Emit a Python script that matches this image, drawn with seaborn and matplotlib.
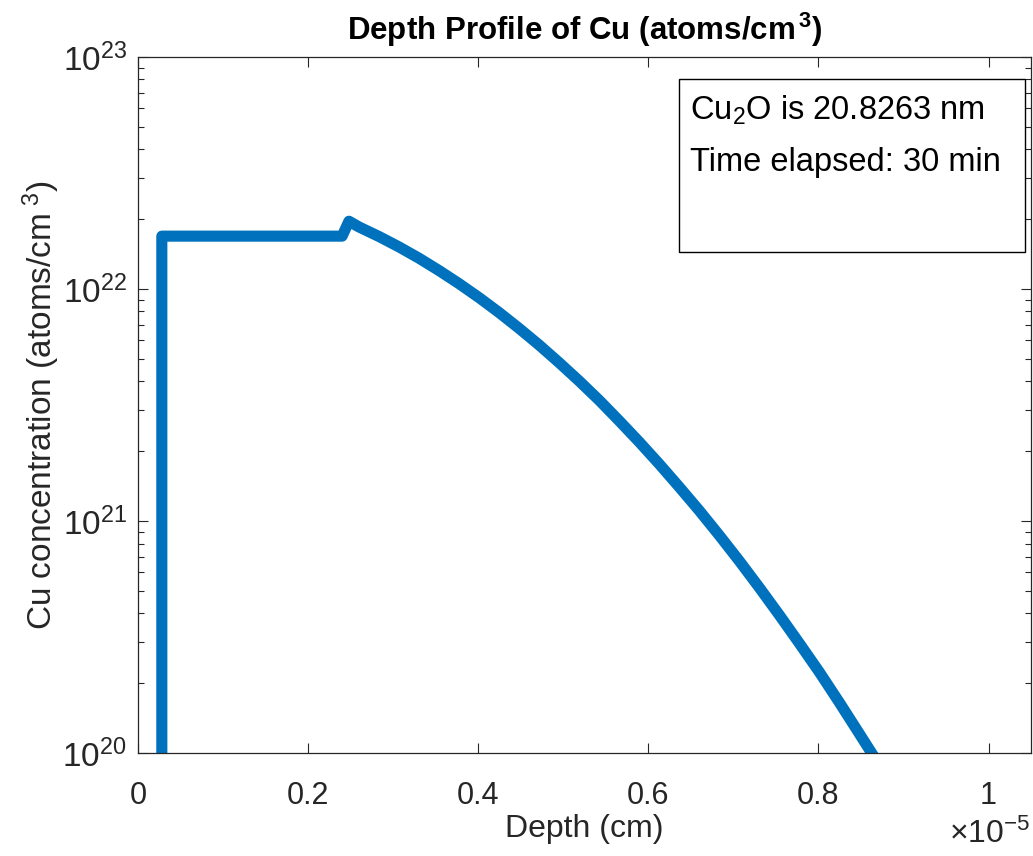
import numpy as np
import pandas as pd
import matplotlib
matplotlib.use("Agg")
import matplotlib.pyplot as plt
import matplotlib.ticker as mticker
from matplotlib.patches import Rectangle
import seaborn as sns

# Cu depth profile after 30 min of oxidation
depth_cm = [0.028e-5, 0.028e-5, 0.240e-5, 0.248e-5, 0.2600e-5, 0.2835e-5,
            0.3071e-5, 0.3306e-5, 0.3541e-5, 0.3776e-5, 0.4012e-5, 0.4247e-5,
            0.4482e-5, 0.4718e-5, 0.4953e-5, 0.5188e-5, 0.5424e-5, 0.5659e-5,
            0.5894e-5, 0.6129e-5, 0.6365e-5, 0.6600e-5, 0.6835e-5, 0.7071e-5,
            0.7306e-5, 0.7541e-5, 0.7776e-5, 0.8012e-5, 0.8247e-5, 0.8482e-5,
            0.8718e-5]
cu_conc = [1.0e18, 1.69e22, 1.69e22, 1.96e22, 1.850e22, 1.683e22,
           1.517e22, 1.356e22, 1.200e22, 1.054e22, 9.17e21, 7.91e21,
           6.76e21, 5.73e21, 4.81e21, 4.01e21, 3.31e21, 2.70e21,
           2.19e21, 1.76e21, 1.40e21, 1.108e21, 8.67e20, 6.72e20,
           5.16e20, 3.93e20, 2.97e20, 2.23e20, 1.65e20, 1.21e20,
           8.85e19]

x_ticks = [0, 0.2e-5, 0.4e-5, 0.6e-5, 0.8e-5, 1.0e-5]
oxide_nm = 20.8263
time_min = 30

sns.set_theme(style="ticks")
plt.rcParams["font.family"] = ["Liberation Sans", "DejaVu Sans"]
plt.rcParams["mathtext.fontset"] = "custom"
plt.rcParams["mathtext.rm"] = "Liberation Sans"
plt.rcParams["mathtext.it"] = "Liberation Sans:italic"
plt.rcParams["mathtext.bf"] = "Liberation Sans:bold"

ink = "#262626"
fs = 23
fig = plt.figure(figsize=(10.33, 8.56), dpi=100)
ax = fig.add_axes([0.1336, 0.1203, 0.8645, 0.8131])

df = pd.DataFrame({"depth": depth_cm, "conc": cu_conc})
sns.lineplot(data=df, x="depth", y="conc", sort=False, estimator=None,
             color="#0072BD", linewidth=8, ax=ax)
ax.lines[0].set_solid_joinstyle("round")
ax.lines[0].set_solid_capstyle("butt")

ax.set_yscale("log")
ax.set_xlim(0, 1.05e-5)
ax.set_ylim(1e20, 1e23)
ax.set_xticks(x_ticks)
ax.xaxis.set_major_formatter(mticker.FuncFormatter(lambda v, p: f"{v / 1e-5:g}"))
ax.yaxis.set_minor_locator(mticker.LogLocator(base=10, subs=np.arange(2, 10)))
ax.yaxis.set_minor_formatter(mticker.NullFormatter())

ax.tick_params(axis="both", which="both", direction="in", top=True, right=True,
               colors=ink, labelcolor=ink, width=0.8)
ax.tick_params(axis="x", which="major", labelsize=22, length=7, pad=20)
ax.tick_params(axis="y", which="major", labelsize=24, length=7, pad=8)
ax.tick_params(axis="both", which="minor", length=4)
for s in ax.spines.values():
    s.set_color(ink)
    s.set_linewidth(0.9)

ax.set_xlabel("Depth (cm)", fontsize=fs, color=ink, labelpad=2)
ax.set_ylabel("Cu concentration (atoms/cm$^{\\,\\,3}$)", fontsize=24, color=ink,
              labelpad=0)
ax.set_title("Depth Profile of Cu (atoms/cm$^{\\,\\mathbf{3}}$)", fontsize=22.5,
             fontweight="bold", color="black", pad=12)

# exponent for the depth axis
fig.text(1030 / 1033, 1 - 834 / 856, r"$\times10^{-5}$", fontsize=fs, color=ink,
         ha="right", va="center")

# annotation box
fig.add_artist(Rectangle((679 / 1033, 1 - 252 / 856), (1025 - 679) / 1033,
                         (252 - 79) / 856, transform=fig.transFigure,
                         facecolor="white", edgecolor="black", linewidth=1.0))
fig.text(690 / 1033, 1 - 110 / 856, f"Cu$_2$O is {oxide_nm} nm", fontsize=23.5,
         color="black", ha="left", va="center")
fig.text(690 / 1033, 1 - 163 / 856, f"Time elapsed: {time_min} min", fontsize=23.5,
         color="black", ha="left", va="center")

fig.savefig("out.png", dpi=100)
